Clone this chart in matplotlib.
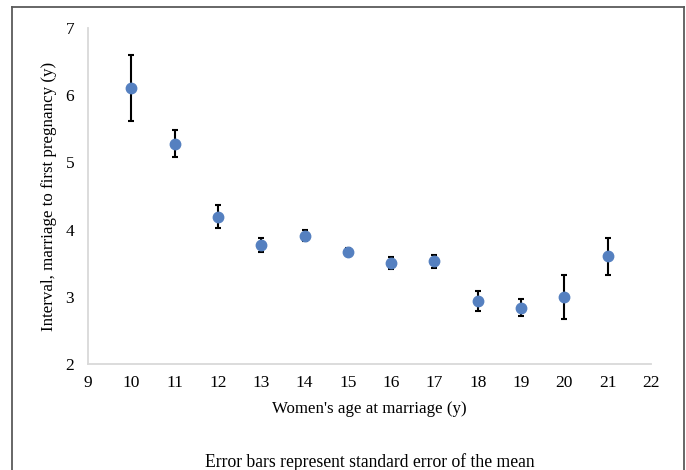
import matplotlib.pyplot as plt
from matplotlib.lines import Line2D

# women's age at marriage (y)
age = [10, 11, 12, 13, 14, 15, 16, 17, 18, 19, 20, 21]
# mean interval marriage -> first pregnancy (y)
interval = [6.11, 5.28, 4.19, 3.77, 3.91, 3.67, 3.50, 3.53, 2.94, 2.84, 3.00, 3.60]
# standard error of the mean
sem = [0.49, 0.20, 0.17, 0.10, 0.08, 0.05, 0.09, 0.095, 0.145, 0.125, 0.33, 0.28]

xticks = list(range(9, 23))
yticks = [2, 3, 4, 5, 6, 7]

plt.rcParams['font.family'] = ['Liberation Serif', 'DejaVu Serif']

fig = plt.figure(figsize=(6.86, 4.70), dpi=100)
ax = fig.add_axes([0.1283, 0.2255, 0.8207, 0.7149])

ax.errorbar(age, interval, yerr=sem, fmt='o', color='#5580c0',
            markersize=7.5, ecolor='black', elinewidth=1.5,
            capsize=2.2, capthick=1.5, zorder=3)

ax.set_xlim(9, 22)
ax.set_ylim(2, 7)
ax.set_xticks(xticks)
ax.set_yticks(yticks)
ax.tick_params(length=0, labelsize=12.5, colors='black')
ax.tick_params(axis='y', pad=10)
ax.tick_params(axis='x', pad=8)

for s in ['top', 'right']:
    ax.spines[s].set_visible(False)
for s in ['left', 'bottom']:
    ax.spines[s].set_color('#d9d9d9')
    ax.spines[s].set_linewidth(1.3)

ax.set_xlabel("Women's age at marriage (y)", fontsize=12.2, labelpad=7)
ax.set_ylabel("Interval, marriage to first pregnancy (y)", fontsize=12.2,
              labelpad=6)

fig.text(0.5385, 0.017, "Error bars represent standard error of the mean",
         ha='center', va='center', fontsize=12.7)

# outer frame (bottom edge falls outside the picture)
fc = '#5a5a5a'
fig.add_artist(Line2D([0.0175, 0.0175], [0.0, 0.985], transform=fig.transFigure,
                      color=fc, linewidth=1.3))
fig.add_artist(Line2D([0.0175, 0.9965], [0.985, 0.985], transform=fig.transFigure,
                      color=fc, linewidth=1.3))
fig.add_artist(Line2D([0.9965, 0.9965], [0.0, 0.985], transform=fig.transFigure,
                      color=fc, linewidth=1.3))

plt.savefig("out.png", dpi=100)
